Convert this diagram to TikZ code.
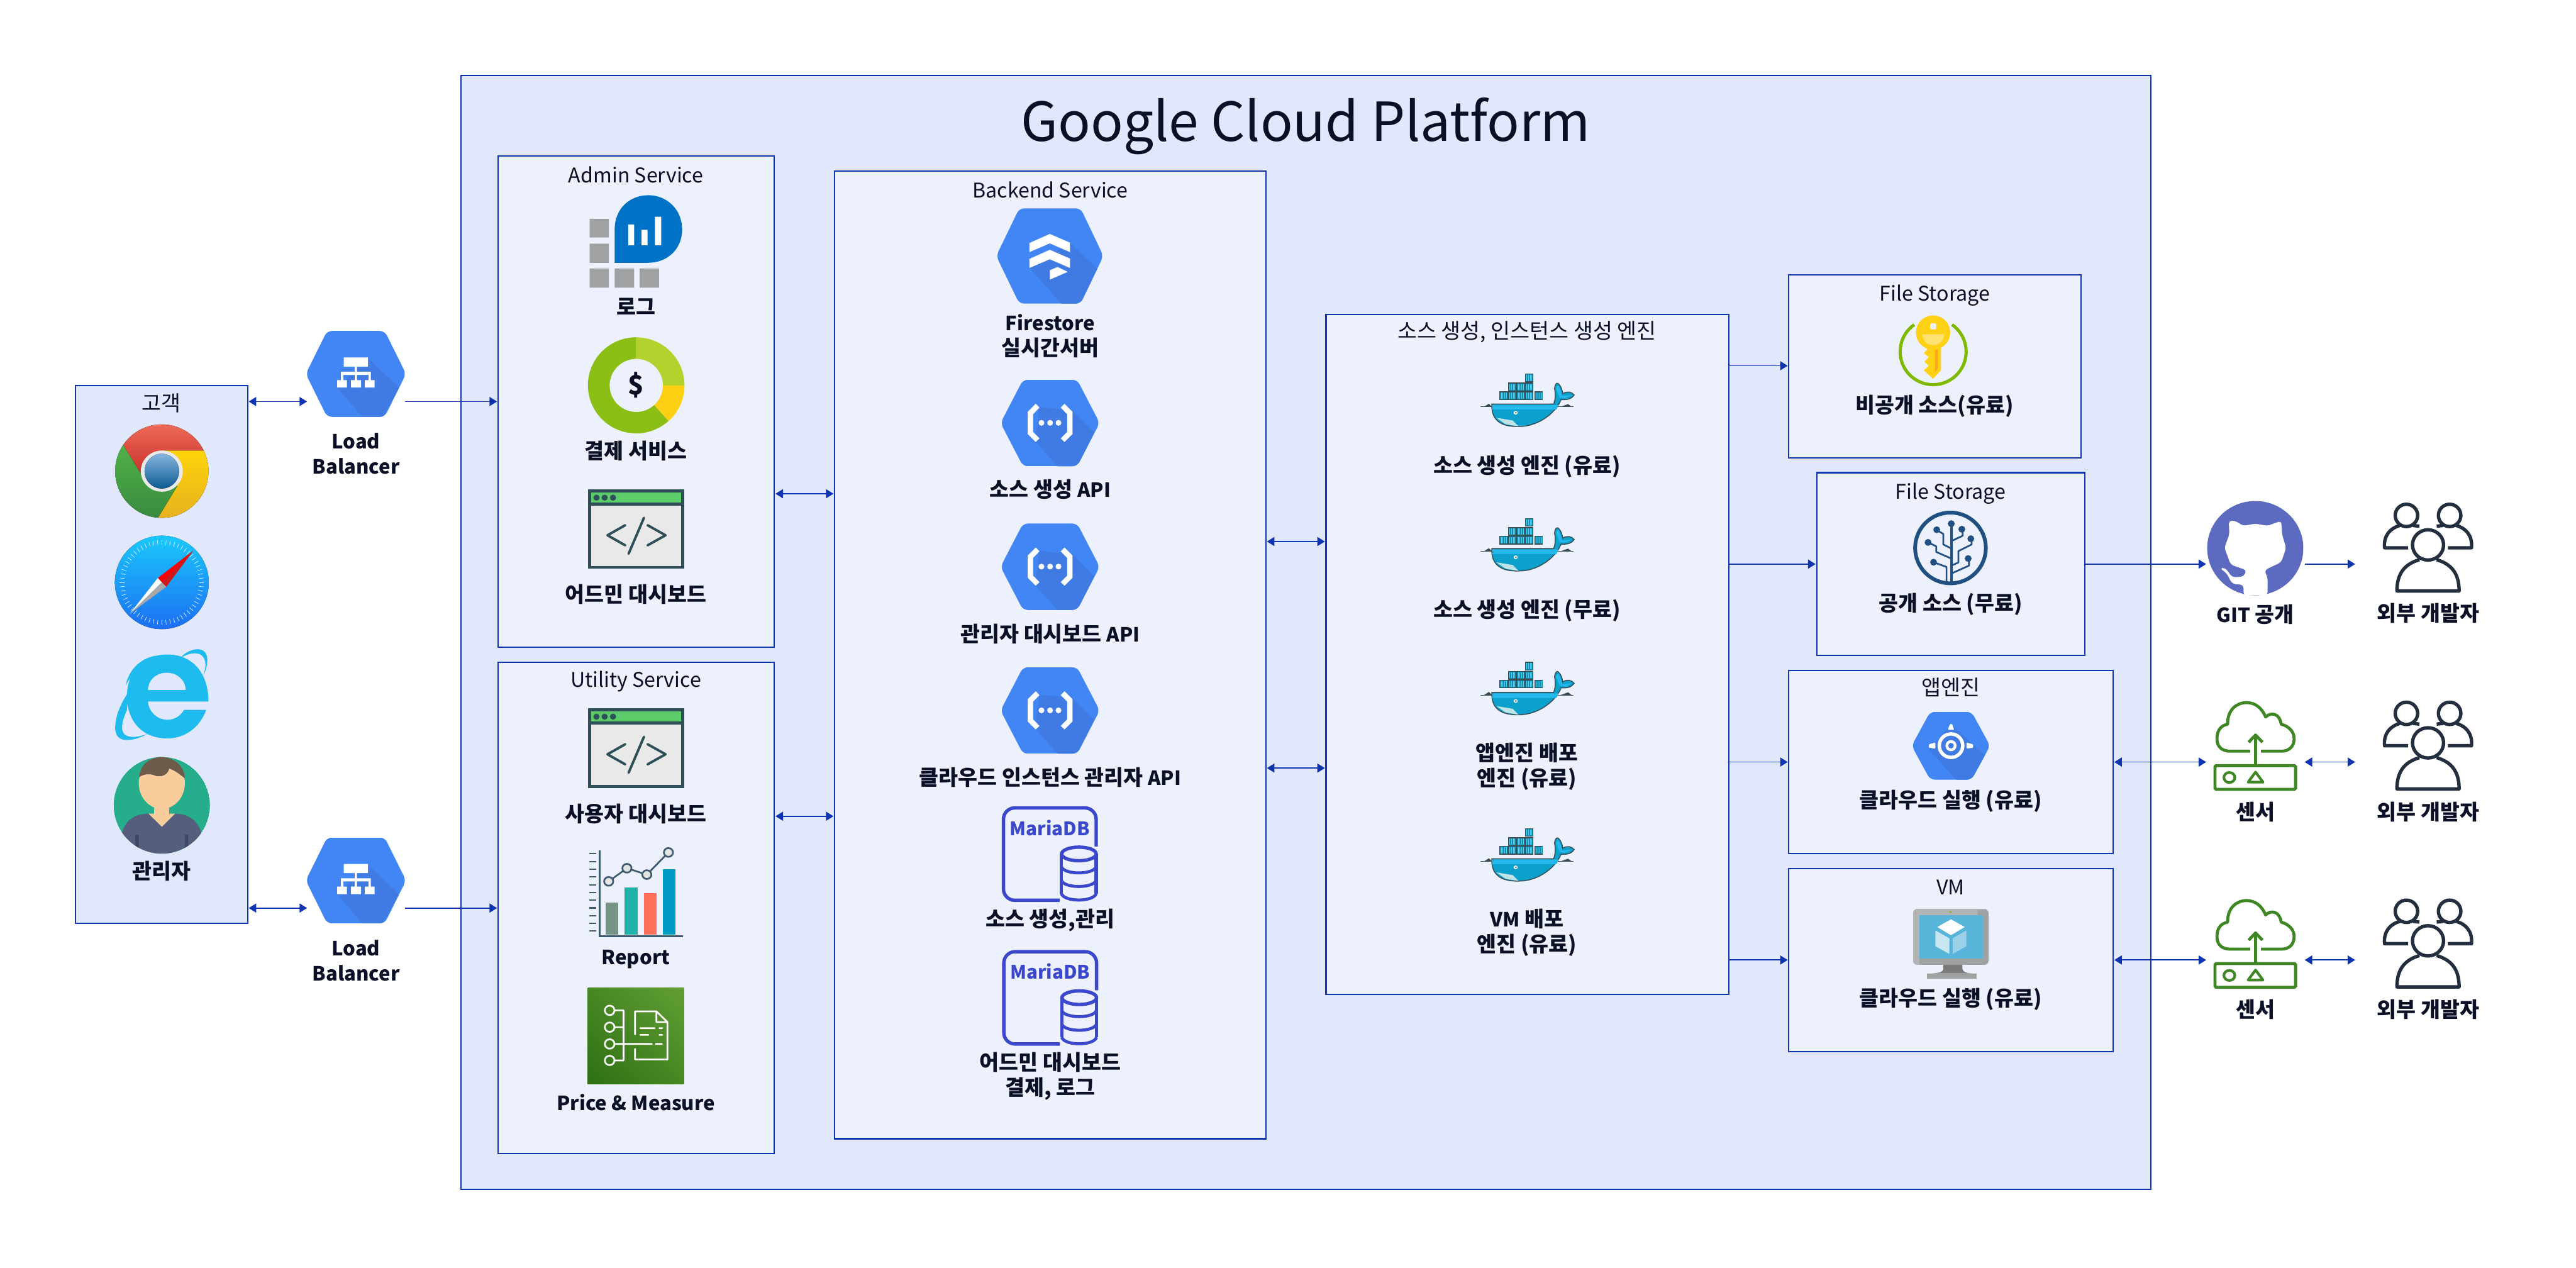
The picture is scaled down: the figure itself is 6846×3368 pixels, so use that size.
\documentclass[tikz,border=0pt]{standalone}
\usepackage{fontspec}
\setmainfont{Noto Sans CJK KR}
\usetikzlibrary{arrows.meta,shadings}
\definecolor{linkblue}{HTML}{0F34B0}
\definecolor{gcpfill}{HTML}{E2E8FB}
\definecolor{panelfill}{HTML}{EDF1FE}
\definecolor{inktext}{HTML}{0B1026}
\definecolor{hexblue}{HTML}{4285F4}
\definecolor{hexshade}{HTML}{3F7BE2}
\definecolor{dbblue}{HTML}{3B48CC}
\definecolor{slate}{HTML}{2F4F58}
\definecolor{usersink}{HTML}{232F3E}
\definecolor{sensorgreen}{HTML}{3F8624}
\definecolor{treeblue}{HTML}{205081}
\definecolor{dockline}{HTML}{394D54}
\definecolor{HTML5green}{HTML}{5CCB6A}
\definecolor{browserbody}{HTML}{E9E9E9}
\definecolor{dockbody}{HTML}{0BA1CC}
\definecolor{docklight}{HTML}{25B8EC}
\definecolor{dockpale}{HTML}{BFE3E6}
\definecolor{dockcrate}{HTML}{0E8FB4}
\definecolor{dockrib}{HTML}{5CCBE8}
\definecolor{chromered}{HTML}{F0705C}
\definecolor{chromeredd}{HTML}{C9302C}
\definecolor{chromegr}{HTML}{55B848}
\definecolor{chromegrd}{HTML}{38893F}
\definecolor{chromey}{HTML}{FDD30B}
\definecolor{chromeyd}{HTML}{E5B020}
\definecolor{chromeb}{HTML}{86B4DE}
\definecolor{chromebd}{HTML}{0D5B93}
\definecolor{chromering}{HTML}{E9E9E9}
\definecolor{safaria}{HTML}{1AC8FC}
\definecolor{safarib}{HTML}{1D6FF2}
\definecolor{safarired}{HTML}{FF0000}
\definecolor{safaridk}{HTML}{CC1A1A}
\definecolor{safarigr}{HTML}{A9A9A9}
\definecolor{iecyan}{HTML}{1EBBEE}
\definecolor{persongreen}{HTML}{26AE8C}
\definecolor{personface}{HTML}{F9CD9B}
\definecolor{personshirt}{HTML}{555F7D}
\definecolor{personstrap}{HTML}{3F4763}
\definecolor{personhair}{HTML}{6D5C4B}
\definecolor{logs}{HTML}{A0A1A2}
\definecolor{logb}{HTML}{0072C6}
\definecolor{donutlight}{HTML}{B4D22E}
\definecolor{donutyellow}{HTML}{FED014}
\definecolor{donutgreen}{HTML}{8CBF15}
\definecolor{chartink}{HTML}{3F5A6E}
\definecolor{barone}{HTML}{759485}
\definecolor{bartwo}{HTML}{20B2AA}
\definecolor{barthree}{HTML}{FF7058}
\definecolor{barfour}{HTML}{009AC6}
\definecolor{chartdot}{HTML}{E2E5E2}
\definecolor{awsd}{HTML}{2E6F15}
\definecolor{awsl}{HTML}{619F35}
\definecolor{awsm}{HTML}{488722}
\definecolor{keygreen}{HTML}{7FBA00}
\definecolor{keyyellow}{HTML}{FFD114}
\definecolor{keydark}{HTML}{F9A81C}
\definecolor{keypale}{HTML}{FFE271}
\definecolor{vmgrey}{HTML}{A0A1A2}
\definecolor{vmlight}{HTML}{B3B4B5}
\definecolor{vmscreen}{HTML}{59B4D9}
\definecolor{vmleft}{HTML}{C8E6F1}
\definecolor{vmright}{HTML}{9CD1E8}
\definecolor{vmneck}{HTML}{7A7A7A}
\definecolor{ghblue}{HTML}{5C6BC0}
\newcommand{\latinb}[1]{{\fontsize{14.8}{19}\selectfont #1}}
\tikzset{
  panel/.style={draw=linkblue,fill=panelfill,line width=0.35mm,inner sep=0pt,outer sep=0pt},
  gcppanel/.style={panel,fill=gcpfill},
  anchorbox/.style={inner sep=0pt,outer sep=0pt},
  lbl/.style={font=\bfseries\fontsize{16}{19}\selectfont,text=inktext,align=center,inner sep=0pt},
  lblat/.style={font=\bfseries\fontsize{14.8}{19}\selectfont,text=inktext,align=center,inner sep=0pt},
  ttl/.style={font=\fontsize{16}{19}\selectfont,text=inktext,align=center,inner sep=0pt},
  ttlat/.style={font=\fontsize{15.3}{19}\selectfont,text=inktext,align=center,inner sep=0pt},
  flow/.style={draw=linkblue,line width=0.3mm,shorten <=0.3mm,shorten >=0.3mm,-{Triangle[length=2mm,width=2.4mm]}},
  flowboth/.style={draw=linkblue,line width=0.3mm,shorten <=0.3mm,shorten >=0.3mm,{Triangle[length=2mm,width=2.4mm]}-{Triangle[length=2mm,width=2.4mm]}},
  viewA/.style 2 args={shift={(#1,#2)},x=0.07653mm,y=-0.10523mm},
  viewB/.style 2 args={shift={(#1,#2)},x=0.06378mm,y=-0.08929mm},
  viewC/.style 2 args={shift={(#1,#2)},x=0.07653mm,y=-0.08610mm},
  viewD/.style 2 args={shift={(#1,#2)},x=0.07653mm,y=-0.12117mm},
  viewE/.style 2 args={shift={(#1,#2)},x=0.07015mm,y=-0.07015mm},
  viewF/.style 2 args={shift={(#1,#2)},x=0.07653mm,y=-0.09567mm},
}
\newcommand{\panelbox}[6]{\node[#1,minimum width={(#5-#3)*0.1mm},minimum height={(#6-#4)*0.1mm}] (#2) at ({(#3+#5)/2},{(#4+#6)/2}) {};}
\newcommand{\hexbase}[7]{%
  \begin{scope}
    \clip[rounded corners=1.3mm] (#1,{(#5+#6)/2})--(#2,#5)--(#3,#5)--(#4,{(#5+#6)/2})--(#3,#6)--(#2,#6)--cycle;
    \fill[hexblue] (#1,#5) rectangle (#4,#6);
    \fill[hexshade] #7;
  \end{scope}}
\newcommand{\lbicon}[2]{\begin{scope}[viewA={#1}{#2}]
  \hexbase{866}{940}{1140}{1214}{28}{245}{(1083,97)--(1190,172)--(1125,255)--(1075,255)--(975,171)--cycle}
  \fill[white] (998,95) rectangle (1082,118) (1036,118) rectangle (1044,152)
     (988,131) rectangle (1092,139) (988,139) rectangle (996,152) (1084,139) rectangle (1092,152)
     (975,152) rectangle (1009,171) (1023,152) rectangle (1058,171) (1071,152) rectangle (1105,171);
\end{scope}}
\newcommand{\apiicon}[2]{\begin{scope}[viewC={#1}{#2}]
  \hexbase{600}{678}{866}{944}{661}{928}{(735,745)--(850,757)--(925,823)--(865,935)--(805,935)--(720,850)--cycle}
  \fill[white] (722,735)--(694,760)--(694,828)--(722,853)--(735,842)--(713,822)--(713,767)--(735,747)--cycle
     (822,735)--(850,760)--(850,828)--(822,853)--(809,842)--(831,822)--(831,767)--(809,747)--cycle;
  \fill[white] (742,794) ellipse[x radius=10,y radius=9] (772,794) ellipse[x radius=10,y radius=9] (801,794) ellipse[x radius=10,y radius=9];
\end{scope}}
\newcommand{\browsericon}[2]{\begin{scope}[viewB={#1}{#2}]
  \fill[slate] (412,1008) rectangle (814,1245);
  \fill[HTML5green] (426,1018) rectangle (801,1048);
  \fill[browserbody] (426,1057) rectangle (801,1236);
  \fill[slate] (447,1033) ellipse[x radius=13,y radius=9] (481,1033) ellipse[x radius=13,y radius=9] (516,1033) ellipse[x radius=13,y radius=9];
  \draw[slate,line width=0.65mm,line cap=round,line join=round] (567,1115)--(493,1145)--(567,1175) (645,1093)--(581,1200) (660,1115)--(735,1145)--(660,1175);
\end{scope}}
\newcommand{\mariaicon}[3]{\begin{scope}[viewC={#1}{#2}]
  \draw[dbblue,line width=0.9mm,rounded corners=3mm] (932,580)--(932,461)--(610,461)--(610,746)--(805,746);
  \draw[dbblue,line width=0.9mm] (811,603)--(811,725) (932,603)--(932,725);
  \draw[dbblue,line width=0.9mm] (872,603) ellipse[x radius=60,y radius=21];
  \draw[dbblue,line width=0.8mm] (811,725) .. controls (820,752) and (923,752) .. (932,725)
     (811,642) .. controls (820,668) and (923,668) .. (932,642)
     (811,684) .. controls (820,710) and (923,710) .. (932,684);
  \node[font=\bfseries\fontsize{14.1}{18}\selectfont,text=dbblue,inner sep=0pt] (#3) at (771,522) {MariaDB};
\end{scope}}
\newcommand{\dockericon}[2]{\begin{scope}[viewD={#1}{#2}]
  \draw[dockline,line width=0.15mm] (568,232)--(610,232) (836,232)--(892,232);
  \fill[dockline] (580,232)--(597,225)--(608,232)--cycle (845,232)--(872,226)--(885,232)--cycle;
  \foreach \bx/\by in {633/198,663/198,692/198,722/198,755/198,663/179,692/179,722/179,722/159}{
    \fill[dockline] (\bx,\by) rectangle ++(30,19);
    \fill[dockcrate] ({\bx+2},{\by+2}) rectangle ++(26,15);
    \foreach \k in {6,12,18,24}{\draw[dockrib,line width=0.05mm] ({\bx+\k},{\by+3}) -- ++(0,13);}
  }
  \filldraw[fill=dockbody,draw=dockline,line width=0.25mm] (607,226)--(822,226)
     .. controls (830,212) and (828,200) .. (825,192)
     .. controls (826,184) and (832,178) .. (838,181)
     .. controls (848,187) and (853,197) .. (853,203)
     .. controls (868,197) and (885,199) .. (893,206)
     .. controls (880,218) and (860,216) .. (848,216)
     .. controls (825,250) and (760,276) .. (700,275)
     .. controls (640,276) and (605,262) .. (607,226)--cycle;
  \fill[docklight] (609,228)--(838,228)--(832,238)--(608,238)--cycle;
  \fill[docklight] (830,192)--(838,184)--(849,200)--(851,208)--(888,206)--(860,213)--(843,212)--cycle;
  \fill[dockpale] (623,256)--(680,262)--(700,275)--(655,270)--cycle;
  \fill[white] (690,245) ellipse[x radius=7,y radius=4];
  \fill[dockline] (691,245) ellipse[x radius=3,y radius=2];
\end{scope}}
\newcommand{\usersicon}[2]{\begin{scope}[viewF={#1}{#2}]
  \draw[usersink,line width=0.9mm,line join=round] (1245,207) ellipse[x radius=54,y radius=42]
    (1215,248) .. controls (1165,260) and (1137,285) .. (1137,335) -- (1353,335) .. controls (1353,285) and (1325,260) .. (1275,248)
    (1170,125) ellipse[x radius=39,y radius=31] (1320,125) ellipse[x radius=39,y radius=31]
    (1176,215)--(1094,215) .. controls (1090,180) and (1115,160) .. (1147,153) (1215,155) -- (1193,153)
    (1314,215)--(1396,215) .. controls (1400,180) and (1375,160) .. (1343,153) (1275,155) -- (1297,153);
\end{scope}}
\newcommand{\sensoricon}[2]{\begin{scope}[viewF={#1}{#2}]
  \draw[sensorgreen,line width=0.8mm,line join=round,line cap=butt]
    (627,780)--(560,780) .. controls (525,780) and (512,765) .. (512,745) .. controls (512,720) and (528,708) .. (549,705)
    .. controls (548,665) and (580,645) .. (615,645) .. controls (645,645) and (668,660) .. (681,685)
    .. controls (700,670) and (730,675) .. (735,705) .. controls (760,710) and (780,725) .. (780,745)
    .. controls (780,765) and (765,780) .. (735,780) -- (665,780);
  \draw[sensorgreen,line width=0.8mm,line join=round] (646,818)--(646,737) (622,755)--(646,735)--(670,755);
  \draw[sensorgreen,line width=0.8mm,rounded corners=0.3mm] (505,820) rectangle (785,886);
  \draw[sensorgreen,line width=0.7mm] (555,853) ellipse[x radius=19,y radius=14];
  \draw[sensorgreen,line width=0.7mm,line join=round] (620,866)--(646,838)--(672,866)--cycle;
\end{scope}}
\begin{document}
\begin{tikzpicture}[x=0.1mm,y=-0.1mm]
\useasboundingbox (0,0) rectangle (6846,3368);
% rows for connectors
\coordinate (rowA) at (0,1067);
\coordinate (rowB) at (0,2413);
\coordinate (rowC) at (0,1312);
\coordinate (rowD) at (0,2169);
\coordinate (rowE) at (0,1439);
\coordinate (rowF) at (0,2041);
\coordinate (rowG) at (0,972);
\coordinate (rowH) at (0,1499);
\coordinate (rowI) at (0,2025);
\coordinate (rowJ) at (0,2551);
% panels
\panelbox{gcppanel}{gcp}{1225}{201}{5716}{3161}
\panelbox{gcppanel}{cust}{201}{1024}{658}{2454}
\panelbox{panel}{admin}{1324}{414}{2058}{1720}
\panelbox{panel}{util}{1324}{1760}{2058}{3065}
\panelbox{panel}{backend}{2218}{454}{3364}{3026}
\panelbox{panel}{engine}{3524}{836}{4594}{2643}
\panelbox{panel}{fsa}{4754}{730}{5531}{1216}
\panelbox{panel}{fsb}{4828}{1256}{5540}{1742}
\panelbox{panel}{appe}{4754}{1782}{5616}{2268}
\panelbox{panel}{vmb}{4754}{2308}{5616}{2794}
% anchors of the free-standing icons
\panelbox{anchorbox}{lba}{819}{879}{1074}{1108}
\panelbox{anchorbox}{lbb}{819}{2225}{1074}{2455}
\panelbox{anchorbox}{gh}{5866}{1331}{6122}{1582}
\panelbox{anchorbox}{sna}{5866}{1862}{6122}{2101}
\panelbox{anchorbox}{snb}{5866}{2388}{6122}{2628}
\panelbox{anchorbox}{usa}{6262}{1336}{6640}{1575}
\panelbox{anchorbox}{usb}{6262}{1862}{6640}{2101}
\panelbox{anchorbox}{usc}{6262}{2388}{6640}{2628}
% titles
\node[font=\fontsize{40.7}{48}\selectfont,text=inktext,inner sep=0pt] (gcptitle) at (3470,335) {Google Cloud Platform};
\node[ttl] (tcust) at (429,1071) {고객};
\node[ttlat] (tadmin) at (1690,464) {Admin Service};
\node[ttlat] (tutil) at (1690,1811) {Utility Service};
\node[ttlat] (tback) at (2791,504) {Backend Service};
\node[ttl] (tengine) at (4058,882) {소스 생성, 인스턴스 생성 엔진};
\node[ttlat] (tfsa) at (5142,785) {File Storage};
\node[ttlat] (tfsb) at (5184,1311) {File Storage};
\node[ttl] (tappe) at (5184,1827) {앱엔진};
\node[ttlat] (tvm) at (5184,2357) {VM};
% customer icons
\begin{scope}[viewA={150}{850}]
  % chrome
  \begin{scope}
    \clip (366,382) ellipse[x radius=162,y radius=118];
    \fill[top color=chromered,bottom color=chromeredd] (190,250) -- (232,316) -- (296,392) -- (366,330) -- (511,330) -- (540,250) -- cycle;
    \fill[top color=chromegr,bottom color=chromegrd] (190,280)--(232,316)--(296,392)--(420,420)--(353,500)--(190,510)--cycle;
    \fill[top color=chromey,bottom color=chromeyd] (366,330)--(511,330)--(540,330)--(540,510)--(353,510)--(353,500)--(420,420)--cycle;
  \end{scope}
  \fill[chromering] (366,382) ellipse[x radius=73,y radius=52];
  \fill[top color=chromeb,bottom color=chromebd] (366,382) ellipse[x radius=60,y radius=44];
  % safari
  \fill[top color=safaria,bottom color=safarib] (366,663) ellipse[x radius=163,y radius=118];
  \foreach \a in {0,6,...,354}{\draw[white,line width=0.1mm] ({366+130*cos(\a)},{663+95*sin(\a)}) -- ({366+146*cos(\a)},{663+107*sin(\a)});}
  \fill[safarired] (475,583)--(352,652)--(381,674)--cycle;
  \fill[safaridk] (475,583)--(366,663)--(381,674)--cycle;
  \fill[white] (255,742)--(352,652)--(366,663)--cycle;
  \fill[safarigr] (255,742)--(366,663)--(381,674)--cycle;
  % edge
  \fill[iecyan,even odd rule] (528,964)--(318,964) .. controls (320,990) and (350,1010) .. (385,1010) .. controls (410,1010) and (432,1000) .. (443,985)
     -- (520,985) .. controls (498,1030) and (445,1057) .. (385,1057) .. controls (300,1057) and (245,1015) .. (245,950)
     .. controls (245,890) and (300,845) .. (385,845) .. controls (470,845) and (528,890) .. (528,964) -- cycle
     (318,935) .. controls (318,910) and (345,891) .. (383,891) .. controls (420,891) and (449,910) .. (449,935) -- cycle;
  \fill[iecyan] (435,850) .. controls (465,828) and (525,820) .. (524,860) .. controls (523,875) and (518,888) .. (510,898)
     .. controls (522,875) and (524,842) .. (480,842) .. controls (465,842) and (450,846) .. (435,852) -- cycle;
  \fill[iecyan] (318,880) .. controls (280,885) and (250,905) .. (240,925) .. controls (250,885) and (290,855) .. (345,848) -- cycle;
  \fill[iecyan] (318,880) .. controls (250,930) and (204,985) .. (204,1030) .. controls (204,1055) and (225,1061) .. (245,1061)
     .. controls (270,1061) and (295,1054) .. (318,1045) .. controls (295,1052) and (228,1065) .. (228,1030) .. controls (228,1015) and (236,1000) .. (245,985)
     .. controls (245,960) and (265,920) .. (318,880) -- cycle;
  % person
  \begin{scope}
    \clip (366,1226) ellipse[x radius=167,y radius=122];
    \fill[persongreen] (366,1226) ellipse[x radius=167,y radius=122];
    \fill[personface] (366,1170) ellipse[x radius=80,y radius=65];
    \fill[personface] (340,1220) rectangle (392,1250);
    \fill[personshirt] (228,1295) .. controls (240,1260) and (280,1247) .. (320,1247) -- (366,1280) -- (412,1247) .. controls (450,1247) and (490,1260) .. (503,1295) -- (503,1360) -- (228,1360) -- cycle;
    \fill[personface] (320,1247)--(412,1247)--(366,1280)--cycle;
    \fill[personstrap] (274,1300) rectangle (286,1335) (446,1300) rectangle (458,1335);
    \fill[personhair] (287,1155) .. controls (290,1120) and (330,1104) .. (366,1104) .. controls (405,1104) and (445,1125) .. (446,1158) .. controls (425,1145) and (410,1138) .. (392,1133) .. controls (385,1155) and (350,1155) .. (340,1150) .. controls (320,1145) and (300,1148) .. (287,1155) -- cycle;
  \end{scope}
\end{scope}
\node[lbl] (lmgr) at (429,2315) {관리자};
% load balancers
\lbicon{150}{850}
\lbicon{150}{2196}
\node[lblat] (llba) at (946,1206) {Load\\Balancer};
\node[lblat] (llbb) at (946,2552) {Load\\Balancer};
% admin icons
\begin{scope}[viewB={1300}{400}]
  \fill[logs] (419,203) rectangle (499,259) (419,277) rectangle (499,334) (419,351) rectangle (499,408) (523,351) rectangle (604,408) (627,351) rectangle (708,408);
  \fill[logb] (523,334)--(523,235) .. controls (523,170) and (590,133) .. (663,133) .. controls (740,133) and (804,175) .. (804,235) .. controls (804,295) and (740,334) .. (663,334) -- cycle;
  \fill[white] (579,220) rectangle (604,282) (635,236) rectangle (660,282) (691,197) rectangle (717,282);
  \fill[donutlight] (613,556) arc[start angle=-90,end angle=0,x radius=201,y radius=143] -- (724,699) arc[start angle=0,end angle=-90,x radius=111,y radius=79] -- cycle;
  \fill[donutyellow] (814,699) arc[start angle=0,end angle=48,x radius=201,y radius=143] -- (687,758) arc[start angle=48,end angle=0,x radius=111,y radius=79] -- cycle;
  \fill[donutgreen] (747,805) arc[start angle=48,end angle=270,x radius=201,y radius=143] -- (613,620) arc[start angle=270,end angle=48,x radius=111,y radius=79] -- cycle;
  \node[font=\bfseries\fontsize{20}{24}\selectfont,text=inktext,inner sep=0pt] (dollar) at (612,698) {\$};
\end{scope}
\browsericon{1300}{400}
\node[lbl] (llog) at (1690,815) {로그};
\node[lbl] (lpay) at (1690,1199) {결제 서비스};
\node[lbl] (ladm) at (1690,1580) {어드민 대시보드};
% utility icons
\browsericon{1300}{982}
\node[lbl] (lusr) at (1690,2162) {사용자 대시보드};
\begin{scope}[viewB={1300}{1750}]
  \draw[chartink,line width=0.5mm] (460,570)--(460,826)--(807,826);
  \foreach \ty in {581,604,627,650,673,696,719,742,765,788,811}{\draw[chartink,line width=0.35mm] (416,\ty)--(445,\ty);}
  \fill[barone] (486,726) rectangle (539,822);
  \fill[bartwo] (565,681) rectangle (618,822);
  \fill[barthree] (644,698) rectangle (697,822);
  \fill[barfour] (724,627) rectangle (776,822);
  \draw[chartink,line width=0.45mm] (498,663)--(574,624)--(657,643)--(747,577);
  \foreach \px/\py in {498/663,574/624,657/643,747/577}{\filldraw[fill=chartdot,draw=chartink,line width=0.45mm] (\px,\py) ellipse[x radius=19,y radius=13];}
\end{scope}
\node[lblat] (lrep) at (1690,2549) {Report};
\begin{scope}[viewB={1300}{1750}]
  \shade[lower left=awsd,upper right=awsl,upper left=awsm,lower right=awsm] (411,979) rectangle (812,1266);
  \draw[white,line width=0.45mm,line join=round]
    (522,1047)--(560,1047)--(560,1196)--(522,1196) (522,1097)--(560,1097) (522,1147)--(680,1147) (692,1147)--(722,1147)
    (608,1120)--(608,1050)--(697,1050)--(743,1082)--(743,1193)--(608,1193)--(608,1160)
    (697,1050)--(697,1082)--(743,1082)
    (628,1100)--(692,1100) (707,1100)--(723,1100) (628,1120)--(665,1120) (707,1120)--(723,1120);
  \foreach \cy in {1047,1097,1147,1196}{\draw[white,line width=0.45mm] (502,\cy) ellipse[x radius=20,y radius=14];}
\end{scope}
\node[lblat] (lprice) at (1690,2930) {Price \& Measure};
% backend icons
\begin{scope}[viewC={2200}{440}]
  \hexbase{585}{665}{878}{957}{132}{426}{(841,238)--(938,320)--(870,435)--(820,435)--(700,315)--cycle}
  \fill[white] (700,239)--(771,211)--(841,238)--(841,267)--(771,240)--(700,267)--cycle
     (700,288)--(771,260)--(841,287)--(841,316)--(771,289)--(700,316)--cycle
     (771,323)--(798,313)--(833,328)--(771,352)--cycle;
\end{scope}
\node[lbl] (lfire) at (2791,893) {\latinb{Firestore}\\실시간서버};
\apiicon{2200}{440}
\node[lbl] (lapia) at (2791,1301) {소스 생성 \latinb{API}};
\apiicon{2200}{822}
\node[lbl] (lapib) at (2791,1684) {관리자 대시보드 \latinb{API}};
\apiicon{2200}{1204}
\node[lbl] (lapic) at (2791,2066) {클라우드 인스턴스 관리자 \latinb{API}};
\mariaicon{2200}{1750}{dba}
\node[lbl] (ldba) at (2791,2446) {소스 생성,관리};
\mariaicon{2201}{2132}{dbb}
\node[lbl] (ldbb) at (2791,2860) {어드민 대시보드\\결제, 로그};
% engine icons
\dockericon{3500}{800}
\dockericon{3500}{1184}
\dockericon{3500}{1566}
\dockericon{3500}{2008}
\node[lbl] (lenga) at (4058,1239) {소스 생성 엔진 (유료)};
\node[lbl] (lengb) at (4058,1623) {소스 생성 엔진 (무료)};
\node[lbl] (lengc) at (4058,2037) {앱엔진 배포\\엔진 (유료)};
\node[lbl] (lengd) at (4058,2479) {\latinb{VM} 배포\\엔진 (유료)};
% file storage a
\begin{scope}[viewE={4600}{700}]
  \draw[keygreen,line width=0.85mm] (838,232) arc[start angle=-55,end angle=235,radius=125];
  \fill[keyyellow] (737,318)--(796,318)--(796,405)--(766,437)--(731,405)--(750,388)--(733,372)--(750,355)--(731,340)--(745,325)--cycle;
  \fill[keydark] (773,330)--(784,325)--(784,398)--(773,412)--cycle;
  \fill[keyyellow] (766,262) circle[radius=65];
  \fill[keypale] (725,268)--(808,268) arc[start angle=0,end angle=180,radius=41.5] -- cycle;
  \fill[panelfill,rounded corners=0.3mm] (755,227) rectangle (778,250);
\end{scope}
\node[lbl] (lfsa) at (5141,1079) {비공개 소스(유료)};
% file storage b
\begin{scope}[viewE={4600}{700}]
  \draw[treeblue,line width=1mm] (832,1078) circle[radius=134];
  \draw[treeblue,line width=0.65mm,line join=round] (835,985)--(835,1208);
  \draw[treeblue,line width=0.45mm,line join=round]
    (817,1208)--(817,1150)--(768,1132)
    (835,1175)--(902,1145)--(902,1118)
    (835,1145)--(862,1133)--(862,1090)--(912,1065)--(912,1043)
    (835,1118)--(778,1093)--(778,1072)--(748,1057)
    (835,1080)--(805,1065)--(805,1025)--(780,1010)
    (835,1052)--(878,1032)--(878,1008);
  \fill[treeblue] (768,1132) circle[radius=13] (899,1118) circle[radius=13] (909,1043) circle[radius=13] (747,1057) circle[radius=13] (780,1009) circle[radius=13] (875,1007) circle[radius=13] (835,986) circle[radius=13];
\end{scope}
\node[lbl] (lfsb) at (5184,1605) {공개 소스 (무료)};
% app engine
\begin{scope}[viewE={4600}{1750}]
  \hexbase{685}{755}{912}{982}{202}{459}{(835,250)--(965,368)--(905,470)--(865,470)--(750,345)--cycle}
  \fill[white,even odd rule] (834,330) circle[radius=51] (834,330) circle[radius=38];
  \fill[white,even odd rule] (834,330) circle[radius=21] (834,330) circle[radius=11];
  \fill[white,rounded corners=0.2mm] (822,270)--(830,248)--(838,248)--(846,270)--cycle (750,325)--(775,318)--(775,341)--(750,338)--cycle (893,318)--(918,325)--(918,338)--(893,341)--cycle;
\end{scope}
\node[lbl] (lappe) at (5184,2129) {클라우드 실행 (유료)};
% vm
\begin{scope}[viewE={4600}{1750}]
  \fill[vmgrey,rounded corners=1mm] (691,949) rectangle (976,1160);
  \begin{scope}
    \clip[rounded corners=1mm] (691,949) rectangle (976,1160);
    \fill[vmlight] (691,949)--(935,949)--(935,972)--(714,1137)--(714,1160)--(691,1160)--cycle;
  \end{scope}
  \fill[vmscreen] (714,972) rectangle (954,1137);
  \fill[white,rounded corners=0.1mm] (782,1017)--(834,988)--(886,1017)--(834,1048)--cycle;
  \fill[vmleft] (775,1030)--(828,1060)--(828,1119)--(775,1090)--cycle;
  \fill[vmright] (840,1060)--(892,1030)--(892,1090)--(840,1119)--cycle;
  \fill[keygreen] (832,960) circle[radius=4];
  \fill[vmneck] (805,1160)--(877,1160)--(877,1175) .. controls (877,1190) and (900,1193) .. (931,1193)--(743,1193) .. controls (780,1193) and (805,1190) .. (805,1175)--cycle;
  \fill[vmgrey] (743,1193) rectangle (931,1212);
\end{scope}
\node[lbl] (lvm) at (5184,2655) {클라우드 실행 (유료)};
% right column
\begin{scope}[viewF={5500}{1250}]
  \fill[ghblue] (645,216) ellipse[x radius=167,y radius=131];
  \fill[white,rounded corners=0.8mm] (553,140)--(575,140)--(603,154)--(645,148)--(688,154)--(735,140)--(738,178)--(752,215)--(735,255)--(677,277)--(688,300)--(688,346)--(604,346)--(604,318)--(565,315)--(545,285)--(522,272)--(540,270)--(565,297)--(605,295)--(615,277)--(560,262)--(538,215)--(555,178)--cycle;
\end{scope}
\node[lbl] (lgit) at (5994,1633) {\latinb{GIT} 공개};
\usersicon{5500}{1250}
\usersicon{5500}{1776}
\usersicon{5500}{2302}
\node[lbl] (lusa) at (6453,1630) {외부 개발자};
\node[lbl] (lusb) at (6453,2157) {외부 개발자};
\node[lbl] (lusc) at (6453,2683) {외부 개발자};
\sensoricon{5500}{1250}
\sensoricon{5500}{1776}
\node[lbl] (lsna) at (5994,2157) {센서};
\node[lbl] (lsnb) at (5994,2683) {센서};
% connectors
\draw[flowboth] (cust.east |- rowA) -- (lba.west |- rowA);
\draw[flow] (lba.east |- rowA) -- (admin.west |- rowA);
\draw[flowboth] (cust.east |- rowB) -- (lbb.west |- rowB);
\draw[flow] (lbb.east |- rowB) -- (util.west |- rowB);
\draw[flowboth] (admin.east |- rowC) -- (backend.west |- rowC);
\draw[flowboth] (util.east |- rowD) -- (backend.west |- rowD);
\draw[flowboth] (backend.east |- rowE) -- (engine.west |- rowE);
\draw[flowboth] (backend.east |- rowF) -- (engine.west |- rowF);
\draw[flow] (engine.east |- rowG) -- (fsa.west |- rowG);
\draw[flow] (engine.east |- rowH) -- (fsb.west |- rowH);
\draw[flow] (engine.east |- rowI) -- (appe.west |- rowI);
\draw[flow] (engine.east |- rowJ) -- (vmb.west |- rowJ);
\draw[flow] (fsb.east |- rowH) -- (gh.west |- rowH);
\draw[flow] (gh.east |- rowH) -- (usa.west |- rowH);
\draw[flowboth] (appe.east |- rowI) -- (sna.west |- rowI);
\draw[flowboth] (sna.east |- rowI) -- (usb.west |- rowI);
\draw[flowboth] (vmb.east |- rowJ) -- (snb.west |- rowJ);
\draw[flowboth] (snb.east |- rowJ) -- (usc.west |- rowJ);
\end{tikzpicture}
\end{document}
